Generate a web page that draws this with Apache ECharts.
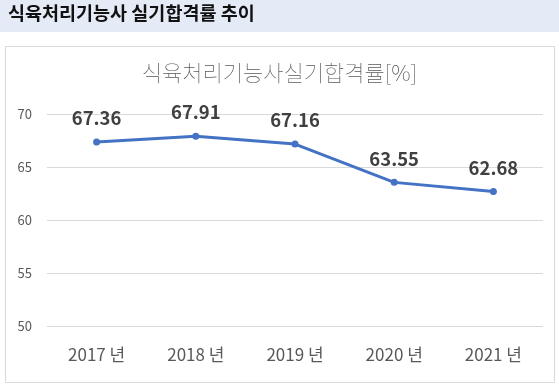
<!DOCTYPE html>
<html><head><meta charset="utf-8">
<script src="https://cdn.jsdelivr.net/npm/echarts@6/dist/echarts.min.js"></script>
<style>html,body{margin:0;padding:0;background:#fff;}#c{width:559px;height:388px;}</style>
</head><body><div id="c"></div>
<script>
const categories = ['2017 년', '2018 년', '2019 년', '2020 년', '2021 년'];
const passRates = [67.36, 67.91, 67.16, 63.55, 62.68];
const yTicks = [50, 55, 60, 65, 70];
const headerText = '식육처리기능사 실기합격률 추이';
const chartTitle = '식육처리기능사실기합격률[%]';

const FONT = '"Noto Sans CJK KR", "Noto Sans", sans-serif';
const chart = echarts.init(document.getElementById('c'));
chart.setOption({
  animation: false,
  backgroundColor: '#fff',
  graphic: [
    { type: 'rect', left: 0, top: 0, shape: { width: 559, height: 32 }, style: { fill: '#E5EBF6' }, z: 0 },
    { type: 'text', left: 8, top: 4, style: { text: headerText, font: 'bold 18.5px ' + FONT, fill: '#111' }, z: 1 },
    { type: 'rect', left: 3, top: 44, shape: { width: 549, height: 336 }, style: { fill: 'none', stroke: '#D9D9D9', lineWidth: 1 }, z: 0 }
  ],
  title: {
    text: chartTitle, left: 'center', top: 57,
    textStyle: { fontFamily: FONT, fontSize: 22, fontWeight: 'lighter', color: '#595959' }
  },
  grid: { left: 47, right: 16, top: 114, bottom: 62 },
  xAxis: {
    type: 'category', data: categories, boundaryGap: true,
    axisLine: { show: false }, axisTick: { show: false },
    axisLabel: { fontFamily: FONT, fontSize: 17, color: '#595959', margin: 20 }
  },
  yAxis: {
    type: 'value', min: yTicks[0], max: yTicks[yTicks.length - 1], interval: 5,
    axisLine: { show: false }, axisTick: { show: false },
    axisLabel: { fontFamily: FONT, fontSize: 13, color: '#595959', margin: 15 },
    splitLine: { lineStyle: { color: '#D9D9D9', width: 1 } }
  },
  series: [{
    type: 'line', data: passRates,
    lineStyle: { color: '#4472C4', width: 3 },
    itemStyle: { color: '#4472C4' },
    symbol: 'circle', symbolSize: 7,
    label: {
      show: true, position: 'top', distance: 11,
      fontFamily: FONT, fontSize: 18.5, fontWeight: 'bold', color: '#404040',
      formatter: p => p.value.toFixed(2)
    }
  }]
});
</script></body></html>
